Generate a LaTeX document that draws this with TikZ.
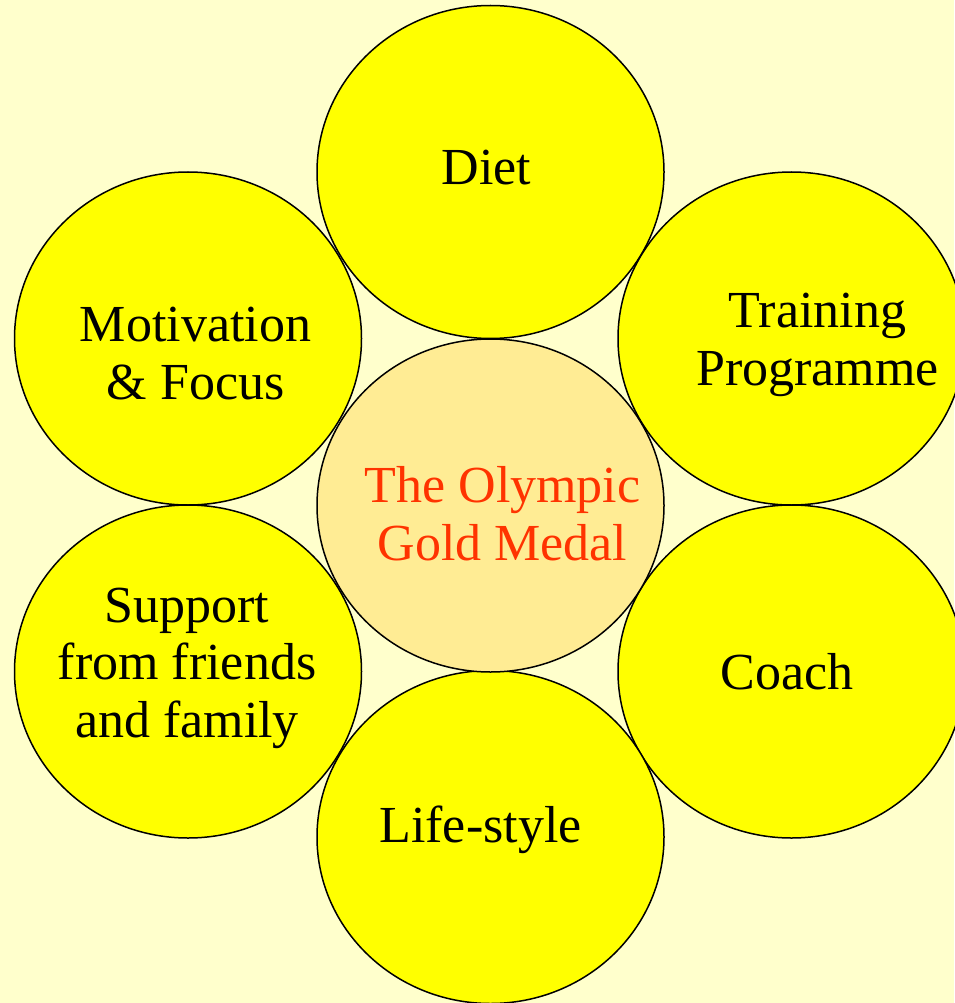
\documentclass[tikz,border=0pt]{standalone}
\usepackage{fontspec}
\setmainfont{Liberation Serif}
\usetikzlibrary{shapes.geometric}
\definecolor{bgyellow}{HTML}{FFFFCC}
\definecolor{petalyellow}{HTML}{FFFF00}
\definecolor{medalfill}{HTML}{FFEC94}
\definecolor{medalred}{HTML}{FF3300}
\begin{document}
\begin{tikzpicture}[x=1pt,y=-1pt,
  petal/.style={ellipse,draw=black,line width=1.5pt,fill=petalyellow,
    minimum width=347pt,minimum height=333pt,inner sep=0pt},
  lbl/.style={font=\fontsize{52}{57.5}\selectfont,align=center,anchor=base}]
\def\midx{490.5}
\def\leftx{188}
\def\rightx{791.5}

% background
\fill[bgyellow] (0,0) rectangle (954,1003);
\useasboundingbox (0,0) rectangle (954,1003);

% centre and petals
\node[petal] (diet) at (\midx,172) {};
\node[petal] (motivation) at (\leftx,338.5) {};
\node[petal] (training) at (\rightx,338.5) {};
\node[petal] (support) at (\leftx,671.5) {};
\node[petal] (coach) at (\rightx,671.5) {};
\node[petal] (lifestyle) at (\midx,837) {};
\node[petal,fill=medalfill] (medal) at (\midx,505.5) {};

% labels (base = last line)
\node[lbl] (diet-t) at (486.5,185) {Diet};
\node[lbl] (motivation-t) at (195.5,399) {Motivation\\\& Focus};
\node[lbl] (training-t) at (817.5,385) {Training\\Programme};
\node[lbl,text=medalred] (medal-t) at (502.5,560) {The Olympic\\Gold Medal};
\node[lbl] (support-t) at (187,737) {Support\\from friends\\and family};
\node[lbl] (coach-t) at (787,689) {Coach};
\node[lbl] (lifestyle-t) at (480.5,842) {Life-style};

\end{tikzpicture}
\end{document}
